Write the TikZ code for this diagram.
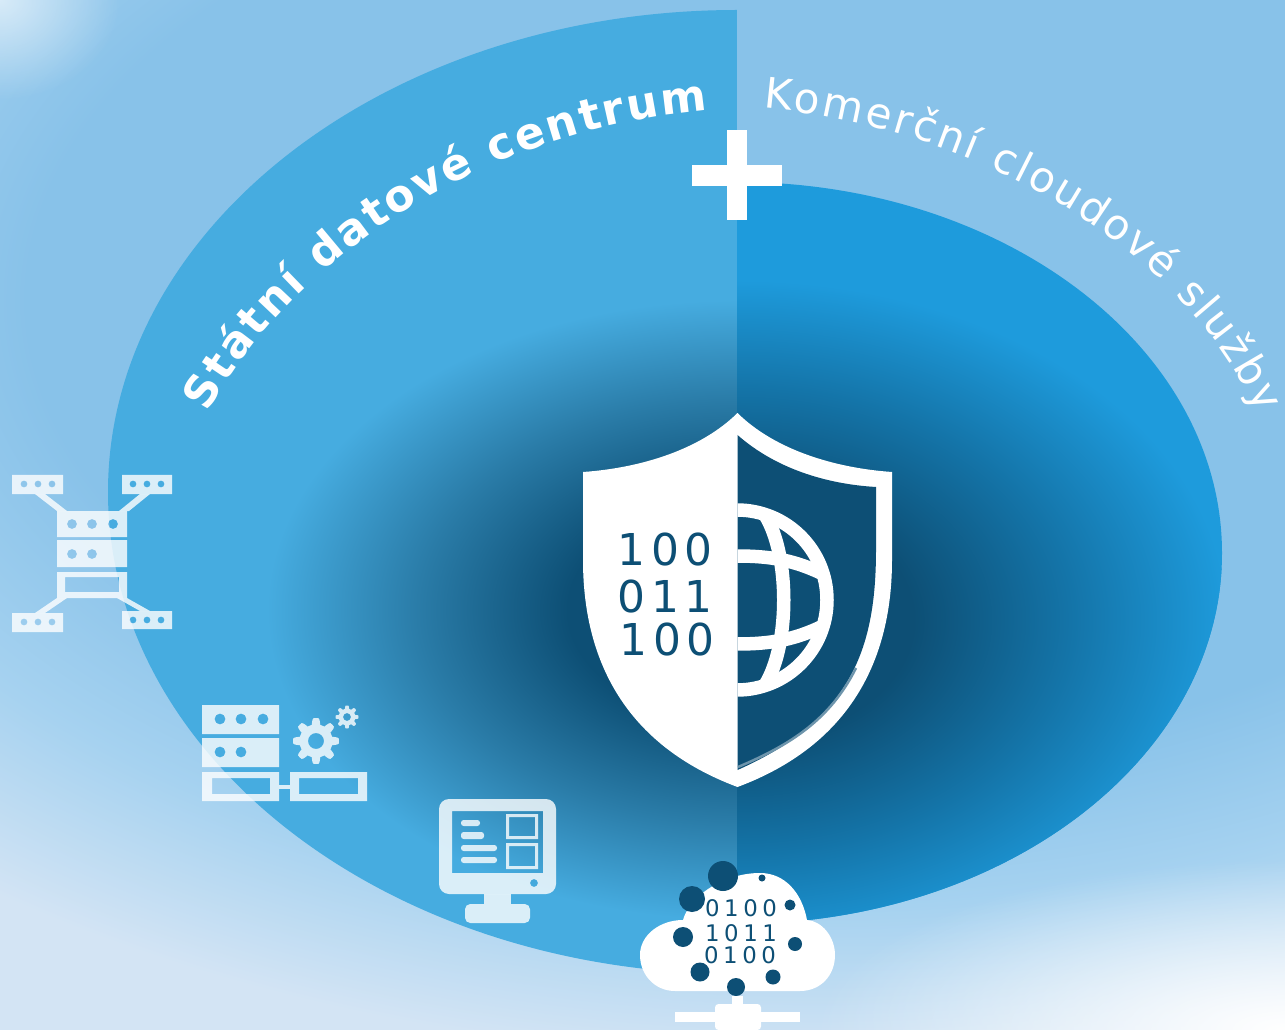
\documentclass[tikz,border=0pt]{standalone}
\usepackage{fontspec}
\setmainfont{DejaVu Sans}
\usetikzlibrary{decorations.text,fadings}
\definecolor{skyblue}{HTML}{88C2E9}
\definecolor{midsky}{HTML}{A6D2F0}
\definecolor{palesky}{HTML}{D3E4F4}
\definecolor{statblue}{HTML}{46ACE0}
\definecolor{cloudblue}{HTML}{1E9BDC}
\definecolor{deepblue}{HTML}{0D4F75}
\definecolor{midleft}{HTML}{2A7CA8}
\definecolor{midright}{HTML}{1474A8}
\pgfdeclareradialshading{bgglow}{\pgfpoint{0bp}{0bp}}{color(0bp)=(skyblue); color(15bp)=(skyblue); color(20bp)=(midsky); color(25bp)=(palesky); color(100bp)=(palesky)}
\pgfdeclareradialshading{leftglow}{\pgfpoint{0bp}{0bp}}{color(0bp)=(deepblue); color(9bp)=(deepblue); color(17bp)=(midleft); color(25bp)=(statblue); color(100bp)=(statblue)}
\pgfdeclareradialshading{rightglow}{\pgfpoint{0bp}{0bp}}{color(0bp)=(deepblue); color(9bp)=(deepblue); color(17bp)=(midright); color(25bp)=(cloudblue); color(100bp)=(cloudblue)}
\tikzfading[name=softspot,inner color=transparent!0,outer color=transparent!100]
\tikzset{
  icon/.style={fill=white,fill opacity=0.8,even odd rule},
  binary/.style={text=deepblue,inner sep=0pt,font=\fontsize{25}{25}\selectfont\addfontfeature{LetterSpace=12}},
  smallbinary/.style={text=deepblue,inner sep=0pt,font=\fontsize{13}{13}\selectfont\addfontfeature{LetterSpace=20}},
  globeline/.style={draw=white,line width=0.27cm},
}
\newcommand{\cogwheel}[4]{
\fill[icon] plot[variable=\t,domain=0:360,samples=121] ({#1+#3*(0.86+0.14*max(-1,min(1,2*cos(8*\t))))*cos(\t)},{#2+#3*(0.86+0.14*max(-1,min(1,2*cos(8*\t))))*sin(\t)}) -- cycle (#1,#2) circle (#4);
}
\begin{document}
\begin{tikzpicture}[x=0.02cm,y=-0.02cm]
\useasboundingbox (0,0) rectangle (1285,1030);
% background
\begin{scope}
\clip (0,0) rectangle (1285,1030);
\fill[palesky] (0,0) rectangle (1285,1030);
\shade[shading=bgglow] (820,300) ellipse [x radius=1320,y radius=760];
\fill[white,opacity=0.6,path fading=softspot] (0,0) ellipse [x radius=120,y radius=100];
\fill[white,path fading=softspot] (1285,1030) ellipse [x radius=470,y radius=170];
\end{scope}
% left half
\begin{scope}
\clip (100,0) rectangle (737,1030);
\clip (737,492) ellipse [x radius=629,y radius=482];
\fill[statblue] (100,0) rectangle (737,1030);
\shade[shading=leftglow] (737,610) ellipse [x radius=470,y radius=310];
\end{scope}
% right half
\begin{scope}
\clip (737,0) rectangle (1285,1030);
\clip (737,553) ellipse [x radius=485,y radius=371];
\fill[cloudblue] (737,0) rectangle (1285,1030);
\shade[shading=rightglow] (737,620) ellipse [x radius=490,y radius=340];
\end{scope}
% titles
\path[decorate,decoration={text along path,text align=fit to path,text color=white,
  text={|\fontsize{25}{25}\selectfont\bfseries|Státní datové centrum}}]
  (208,413) .. controls (290,260) and (480,130) .. (708,110);
\path[decorate,decoration={text along path,text align=fit to path,text color=white,
  text={|\fontsize{24}{24}\selectfont|Komerční cloudové služby}}]
  (763,108) .. controls (965,125) and (1180,240) .. (1258,414);
% plus
\fill[white] (727,130) rectangle (747,220);
\fill[white] (692,165) rectangle (727,186);
\fill[white] (747,165) rectangle (782,186);
% shield
\fill[white] (737.5,413) .. controls (700,450) and (640,468) .. (583,472) -- (583,560)
  .. controls (583,660) and (625,745) .. (737.5,787)
  .. controls (850,745) and (892,660) .. (892,560) -- (892,472)
  .. controls (835,468) and (775,450) .. (737.5,413) -- cycle;
\fill[deepblue] (737.5,435) .. controls (775,468) and (825,484) .. (876,487) -- (876,550)
  .. controls (876,650) and (850,720) .. (737.5,770) -- cycle;
\draw[color=deepblue!60!white,line width=0.05cm] (738,767) .. controls (790,745) and (830,720) .. (856,668);
% globe
\begin{scope}
\clip (737.5,500) rectangle (840,700);
\draw[globeline] (737,600) circle (90);
\clip (737,600) circle (90);
\draw[globeline] (737,556) .. controls (770,556) and (795,560) .. (825,575);
\draw[globeline] (737,644) .. controls (770,644) and (795,640) .. (825,625);
\draw[globeline] (765,515) .. controls (790,555) and (790,645) .. (765,685);
\end{scope}
% numbers
\node[binary] (binA) at (665,550) {100};
\node[binary] (binB) at (665,597) {011};
\node[binary] (binC) at (667,640) {100};
% rack with four arms
\fill[icon] (12,475) rectangle (63,494) \foreach \x in {24,38,52} {(\x,484) circle (3.5)};
\fill[icon] (122,475) rectangle (172,494) \foreach \x in {133,147,161} {(\x,484) circle (3.5)};
\fill[icon] (12,613) rectangle (63,632) \foreach \x in {24,38,52} {(\x,622) circle (3.5)};
\fill[icon] (122,611) rectangle (172,629) \foreach \x in {133,147,161} {(\x,620) circle (3.5)};
\fill[icon] (57,511) rectangle (127,537) \foreach \x in {72,92,113} {(\x,524) circle (5)};
\fill[icon] (57,540) rectangle (127,567) \foreach \x in {72,92} {(\x,554) circle (5)};
\fill[icon] (57,572) rectangle (127,598) (65,577) rectangle (119,592);
\foreach \sx/\sy/\ex/\ey in {40/494/62/511,145/494/124/511,62/598/40/613,122/598/145/611}
\fill[icon] (\sx-5,\sy) -- (\sx+5,\sy) -- (\ex+5,\ey) -- (\ex-5,\ey) -- cycle;
% rack with cogs
\fill[icon] (202,705) rectangle (279,734) \foreach \x in {220,241,263} {(\x,719) circle (5.5)};
\fill[icon] (202,738) rectangle (279,767) \foreach \x in {220,241} {(\x,752) circle (5.5)};
\fill[icon] (202,772) rectangle (279,801) (212,778) rectangle (270,794);
\fill[icon] (290,772) rectangle (367,801) (299,778) rectangle (358,794);
\fill[icon] (279,785) rectangle (290,789);
\cogwheel{316}{741}{23}{8}
\cogwheel{347}{717}{11.5}{4}
% monitor
\fill[icon] (449,799) -- (546,799) arc[start angle=-90,end angle=0,radius=10] -- (556,884) arc[start angle=0,end angle=90,radius=10] -- (449,894) arc[start angle=90,end angle=180,radius=10] -- (439,809) arc[start angle=180,end angle=270,radius=10] -- cycle
  (452,811) rectangle (543,873) (534,883) circle (4);
\fill[icon] (484,894) rectangle (511,904);
\fill[icon,rounded corners=3pt] (465,904) rectangle (530,923);
\foreach \ya/\yb/\xb in {820/826/480,832/839/484,845/851/497,857/863/497}
\fill[icon,rounded corners=1.5pt] (461,\ya) rectangle (\xb,\yb);
\fill[icon] (506,814) rectangle (538,839) (509,817) rectangle (535,836);
\fill[icon] (506,843) rectangle (538,869) (509,846) rectangle (535,866);
% cloud
\fill[white] (675,991) -- (800,991) .. controls (821,991) and (835,975) .. (835,955)
  .. controls (835,937) and (822,921) .. (807,920)
  .. controls (802,893) and (785,873) .. (760,873)
  .. controls (725,873) and (690,895) .. (683,920)
  .. controls (660,920) and (640,935) .. (640,955)
  .. controls (640,975) and (655,991) .. (675,991) -- cycle;
\foreach \x/\y/\r in {723/876/15,692/899/13,683/937/10,700/972/9.5,736/987/9,773/977/7.5,795/944/7,790/905/5.5,762/878/3.5}
\fill[deepblue] (\x,\y) circle (\r);
\node[smallbinary] (cloudA) at (741,908) {0100};
\node[smallbinary] (cloudB) at (741,933) {1011};
\node[smallbinary] (cloudC) at (740,955) {0100};
% network below cloud
\fill[white] (732,996) rectangle (743,1007);
\fill[white] (675,1012) rectangle (800,1022);
\fill[white,rounded corners=2pt] (715,1004) rectangle (761,1030);
\end{tikzpicture}
\end{document}
